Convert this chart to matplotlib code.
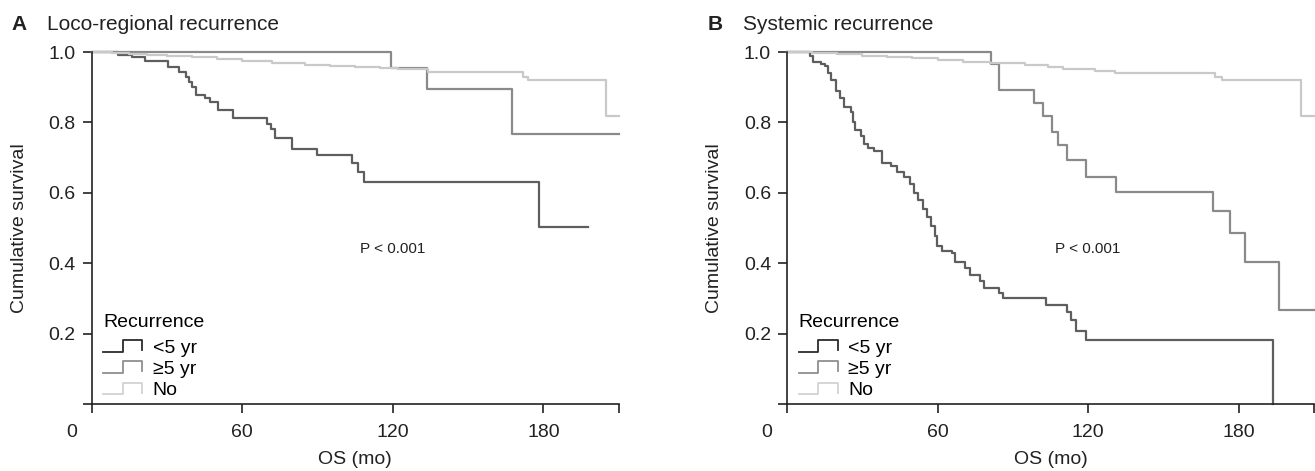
import matplotlib
matplotlib.use("Agg")
import matplotlib.pyplot as plt
from matplotlib.lines import Line2D
from matplotlib.legend_handler import HandlerBase
from matplotlib import font_manager
import matplotlib.transforms as mtransforms

names = {f.name for f in font_manager.fontManager.ttflist}
family = "Liberation Sans Narrow" if "Liberation Sans Narrow" in names else "Liberation Sans"
plt.rcParams['font.family'] = [family, 'DejaVu Sans']

# ---- data (months, cumulative survival) ----
groups = ["<5 yr", "\u22655 yr", "No"]

a_lt5_t = [0, 10.6, 16.0, 21.3, 30.5, 35.0, 37.7, 39.0, 40.0, 41.6, 45.0, 47.0, 50.3, 56.3,
           69.8, 71.5, 73.2, 80.0, 90.0, 103.6, 106.0, 108.6, 178.3, 197.7]
a_lt5_s = [1.0, 0.991, 0.985, 0.975, 0.958, 0.944, 0.93, 0.916, 0.90, 0.878, 0.868, 0.858, 0.836, 0.812,
           0.795, 0.78, 0.757, 0.724, 0.706, 0.684, 0.658, 0.632, 0.504, 0.504]
a_ge5_t = [0, 119.3, 133.5, 167.5, 210]
a_ge5_s = [1.0, 0.954, 0.894, 0.766, 0.766]
a_no_t = [0, 8, 15, 22, 30, 40, 50, 60, 72, 85, 95, 105, 115, 122, 134, 172, 174, 205, 210]
a_no_s = [1.0, 0.998, 0.995, 0.992, 0.989, 0.985, 0.98, 0.975, 0.969, 0.964, 0.961, 0.958, 0.955,
          0.952, 0.944, 0.930, 0.921, 0.817, 0.817]

b_lt5_t = [0, 9.3, 10.2, 13.5, 15.2, 16.2, 17.6, 19.4, 21.0, 22.8, 25.4, 26.3, 27.2, 29.6, 30.5,
           32.1, 34.7, 38.0, 41.4, 43.9, 46.5, 49.0, 50.7, 52.4, 54.0, 55.8, 57.5, 59.0, 59.8, 61.7,
           65.9, 66.8, 71.0, 72.8, 76.9, 78.6, 84.5, 86.2, 103.1, 111.5, 113.2, 115.0, 119.1, 193.5]
b_lt5_s = [1.0, 0.99, 0.973, 0.965, 0.959, 0.94, 0.921, 0.89, 0.87, 0.845, 0.83, 0.80, 0.779, 0.76, 0.74,
           0.727, 0.72, 0.684, 0.675, 0.66, 0.645, 0.625, 0.60, 0.58, 0.555, 0.53, 0.505, 0.476, 0.45, 0.436,
           0.43, 0.403, 0.385, 0.367, 0.35, 0.329, 0.315, 0.30, 0.281, 0.26, 0.24, 0.206, 0.182, 0.0]
b_ge5_t = [0, 81.1, 84.5, 98.5, 102.2, 105.6, 108.0, 111.5, 119.1, 131.0, 169.8, 176.6, 182.5, 196.0, 212]
b_ge5_s = [1.0, 0.965, 0.893, 0.855, 0.817, 0.774, 0.735, 0.692, 0.646, 0.601, 0.547, 0.485, 0.403, 0.267, 0.267]
b_no_t = [0, 10, 20, 30, 40, 50, 60, 70, 81, 95, 104, 110, 122.7, 130.8, 170.7, 173.5, 205, 212]
b_no_s = [1.0, 0.997, 0.994, 0.99, 0.986, 0.982, 0.978, 0.973, 0.968, 0.962, 0.958, 0.953, 0.947,
          0.941, 0.93, 0.92, 0.817, 0.817]

x_ticks = [0, 60, 120, 180]
y_ticks = [0.2, 0.4, 0.6, 0.8, 1.0]

curve_colors = ["#5e5e5e", "#8a8a8a", "#c9c9c9"]
legend_colors = ["#2b2b2b", "#8f8f8f", "#d2d2d2"]
FS = 14


class StepHandler(HandlerBase):
    # legend key drawn as a little step: low line, up, across, down
    def create_artists(self, legend, orig_handle, xdescent, ydescent, width, height, fontsize, trans):
        x0 = -xdescent
        y0 = -ydescent
        xs = [x0, x0 + 0.5 * width, x0 + 0.5 * width, x0 + width, x0 + width]
        ys = [y0, y0, y0 + height, y0 + height, y0 + 0.15 * height]
        ln = Line2D(xs, ys, color=orig_handle.get_color(), lw=1.3)
        ln.set_transform(trans)
        return [ln]


def draw_panel(ax, series):
    for (t, s), c in zip(series, curve_colors):
        ax.plot(t, s, drawstyle='steps-post', color=c, lw=1.6, clip_on=False)
    ax.set_xlim(0, 210)
    ax.set_ylim(0, 1.0)
    ax.spines['top'].set_visible(False)
    ax.spines['right'].set_visible(False)
    for sp in ['left', 'bottom']:
        ax.spines[sp].set_linewidth(1.2)
        ax.spines[sp].set_color('#222222')
    ax.set_xticks(x_ticks + [210])
    ax.set_xticklabels(['0', '60', '120', '180', ''])
    ax.set_yticks([0.0] + y_ticks)
    ax.set_yticklabels([''] + [f"{v:.1f}" for v in y_ticks])
    ax.tick_params(axis='both', direction='out', length=6.5, width=1.2, color='#222222',
                   labelsize=FS, colors='#222222')
    ax.tick_params(axis='x', pad=8)
    ax.tick_params(axis='y', pad=5)
    # SPSS style: the "0" sits left of the origin
    lbl = ax.get_xticklabels()[0]
    lbl.set_transform(lbl.get_transform() + mtransforms.ScaledTranslation(-0.2, 0, ax.figure.dpi_scale_trans))
    ax.set_xlabel('OS (mo)', fontsize=FS, color='#222222', labelpad=7)
    ax.set_ylabel('Cumulative survival', fontsize=FS, color='#222222', labelpad=15)
    ax.text(120, 0.44, 'P < 0.001', ha='center', va='center', fontsize=11, color='#222222')
    handles = [Line2D([], [], color=c) for c in legend_colors]
    leg = ax.legend(handles, groups, title='Recurrence', loc='lower left', bbox_to_anchor=(0.0, -0.02),
                    frameon=False, fontsize=FS, title_fontsize=FS, alignment='left',
                    handler_map={Line2D: StepHandler()}, handlelength=2.0, handleheight=0.55,
                    handletextpad=0.55, labelspacing=0.22, borderpad=0.3, borderaxespad=0.3)
    leg._legend_box.sep = 6


fig = plt.figure(figsize=(13.15, 4.71), dpi=100)
ax_a = fig.add_axes([91.6 / 1315, 67 / 471, 527 / 1315, 352 / 471])
ax_b = fig.add_axes([787 / 1315, 67 / 471, 527 / 1315, 352 / 471])

draw_panel(ax_a, [(a_lt5_t, a_lt5_s), (a_ge5_t, a_ge5_s), (a_no_t, a_no_s)])
draw_panel(ax_b, [(b_lt5_t, b_lt5_s), (b_ge5_t, b_ge5_s), (b_no_t, b_no_s)])

ty = 1 - 24 / 471
fig.text(11 / 1315, ty, 'A', fontsize=15, fontweight='bold', va='center', color='#222222')
fig.text(47 / 1315, ty, 'Loco-regional recurrence', fontsize=15, va='center', color='#222222')
fig.text(708 / 1315, ty, 'B', fontsize=15, fontweight='bold', va='center', color='#222222')
fig.text(743 / 1315, ty, 'Systemic recurrence', fontsize=15, va='center', color='#222222')

fig.savefig('out.png', dpi=100)
